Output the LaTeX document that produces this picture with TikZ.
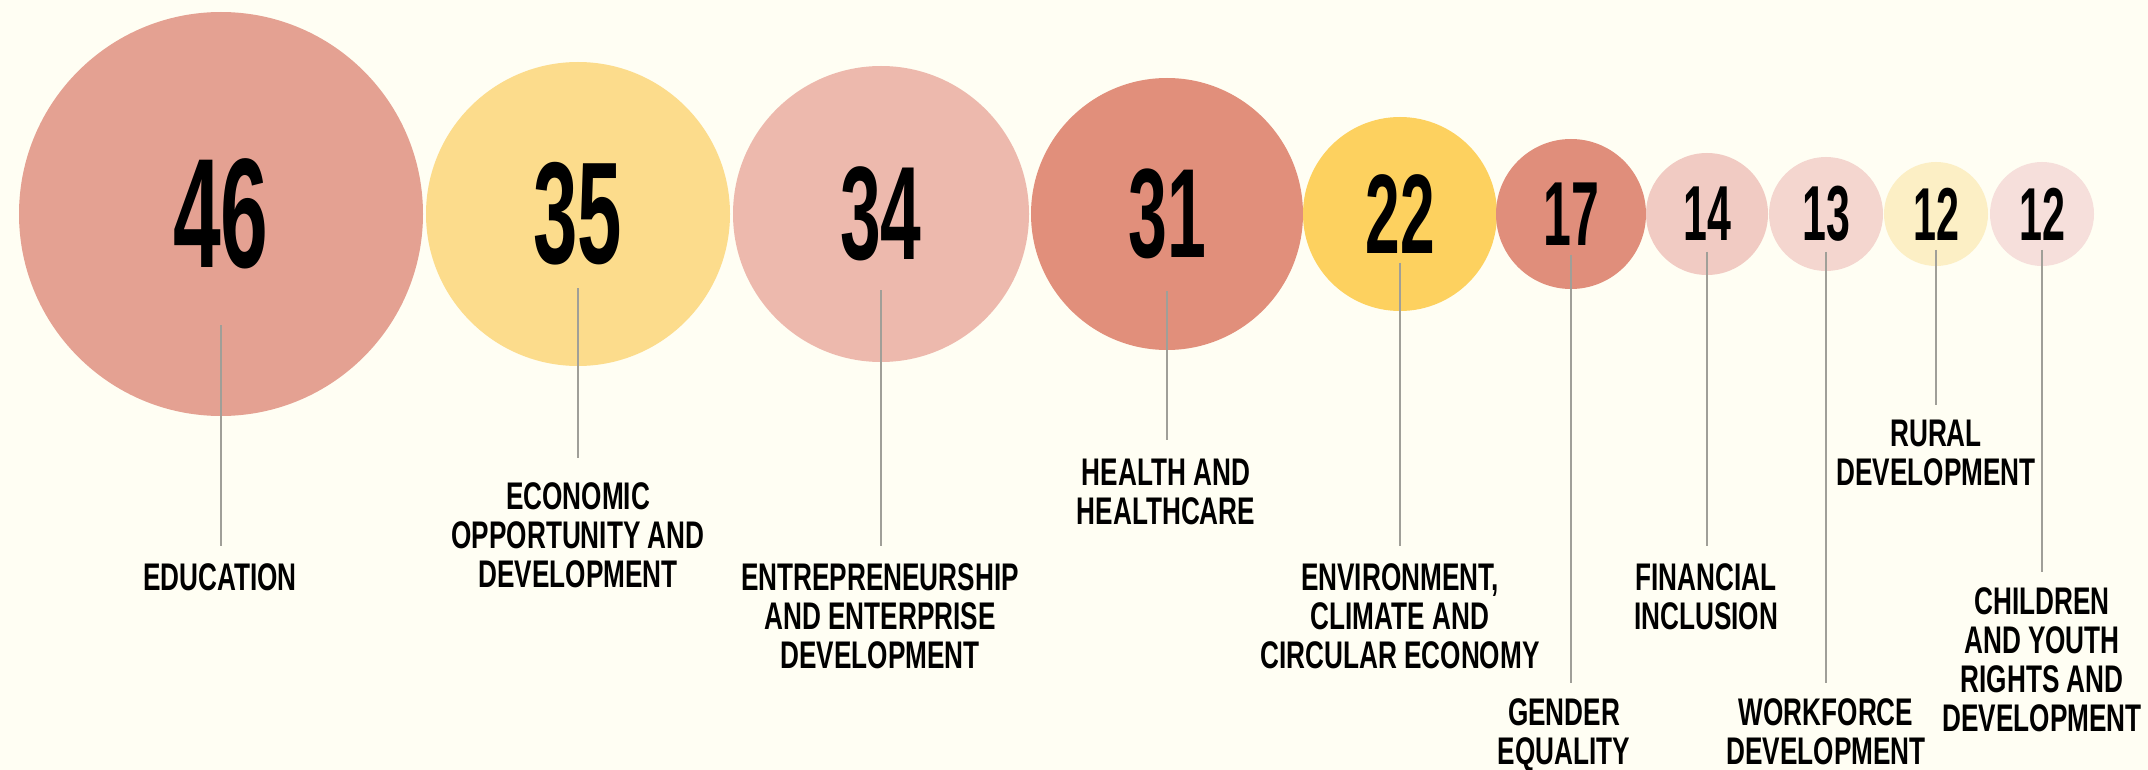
\documentclass[tikz,border=0pt]{standalone}
\usepackage{fontspec}
\newfontfamily\numfont{Liberation Sans}[FakeStretch=0.55]
\newfontfamily\labfont{Liberation Sans}[FakeStretch=0.68]
\definecolor{bg}{HTML}{FFFEF3}
\definecolor{cA}{HTML}{E4A192}
\definecolor{cB}{HTML}{FCDC8C}
\definecolor{cC}{HTML}{EDB9AD}
\definecolor{cD}{HTML}{E18F7B}
\definecolor{cE}{HTML}{FDD15F}
\definecolor{cF}{HTML}{E08E7B}
\definecolor{cG}{HTML}{F1CBC3}
\definecolor{cH}{HTML}{F4D6CF}
\definecolor{cI}{HTML}{FCEFC5}
\definecolor{cJ}{HTML}{F6DFDB}
\definecolor{leadgray}{HTML}{A09F98}
\tikzset{
  bub/.style={circle, inner sep=0pt, draw=none, text=black},
  lab/.style={anchor=north, inner sep=0pt, align=center, text=black,
    font=\labfont\bfseries\fontsize{38.5}{39}\selectfont},
  leader/.style={draw=leadgray, line width=2pt}
}
\newcommand{\nf}[1]{\numfont\bfseries\fontsize{#1}{#1}\selectfont}
\begin{document}
\begin{tikzpicture}[x=1pt,y=-1pt]
\fill[bg] (0,0) rectangle (2148,770);
\useasboundingbox (0,0) rectangle (2148,770);
% bubbles
\node[bub, fill=cA, minimum size=404pt, font=\nf{156}] (c46) at (221,214) {46};
\node[bub, fill=cB, minimum size=304pt, font=\nf{145}] (c35) at (578,214) {35};
\node[bub, fill=cC, minimum size=296pt, font=\nf{133}] (c34) at (881,214) {34};
\node[bub, fill=cD, minimum size=272pt, font=\nf{127}] (c31) at (1167,214) {31};
\node[bub, fill=cE, minimum size=194pt, font=\nf{113}] (c22) at (1400,214) {22};
\node[bub, fill=cF, minimum size=150pt, font=\nf{91}] (c17) at (1571,214) {17};
\node[bub, fill=cG, minimum size=122pt, font=\nf{78}] (c14) at (1707,214) {14};
\node[bub, fill=cH, minimum size=114pt, font=\nf{78}] (c13) at (1826,214) {13};
\node[bub, fill=cI, minimum size=104pt, font=\nf{75}] (c12a) at (1936,214) {12};
\node[bub, fill=cJ, minimum size=104pt, font=\nf{75}] (c12b) at (2042,214) {12};
% labels
\node[lab] (l46) at (220,563) {EDUCATION};
\node[lab] (l35) at (578,482) {ECONOMIC\\OPPORTUNITY AND\\DEVELOPMENT};
\node[lab] (l34) at (880,563) {ENTREPRENEURSHIP\\AND ENTERPRISE\\DEVELOPMENT};
\node[lab] (l31) at (1166,459) {HEALTH AND\\HEALTHCARE};
\node[lab] (l22) at (1400,563) {ENVIRONMENT,\\CLIMATE AND\\CIRCULAR ECONOMY};
\node[lab] (l17) at (1564,698) {GENDER\\EQUALITY};
\node[lab] (l14) at (1706,563) {FINANCIAL\\INCLUSION};
\node[lab] (l13) at (1826,698) {WORKFORCE\\DEVELOPMENT};
\node[lab] (l12a) at (1936,420) {RURAL\\DEVELOPMENT};
\node[lab] (l12b) at (2042,587) {CHILDREN\\AND YOUTH\\RIGHTS AND\\DEVELOPMENT};
% leader tops
\coordinate (t46) at (221,325);
\coordinate (t35) at (578,288);
\coordinate (t34) at (881,290);
\coordinate (t31) at (1167,291);
\coordinate (t22) at (1400,263);
\coordinate (t17) at (1571,255);
\coordinate (t14) at (1707,252);
\coordinate (t13) at (1826,252);
\coordinate (t12a) at (1936,250);
\coordinate (t12b) at (2042,250);
% leaders
\draw[leader, shorten >=17pt] (t46) -- (t46 |- l46.north);
\draw[leader, shorten >=24pt] (t35) -- (t35 |- l35.north);
\draw[leader, shorten >=17pt] (t34) -- (t34 |- l34.north);
\draw[leader, shorten >=19pt] (t31) -- (t31 |- l31.north);
\draw[leader, shorten >=17pt] (t22) -- (t22 |- l22.north);
\draw[leader, shorten >=15pt] (t17) -- (t17 |- l17.north);
\draw[leader, shorten >=17pt] (t14) -- (t14 |- l14.north);
\draw[leader, shorten >=15pt] (t13) -- (t13 |- l13.north);
\draw[leader, shorten >=15pt] (t12a) -- (t12a |- l12a.north);
\draw[leader, shorten >=15pt] (t12b) -- (t12b |- l12b.north);
\end{tikzpicture}
\end{document}
